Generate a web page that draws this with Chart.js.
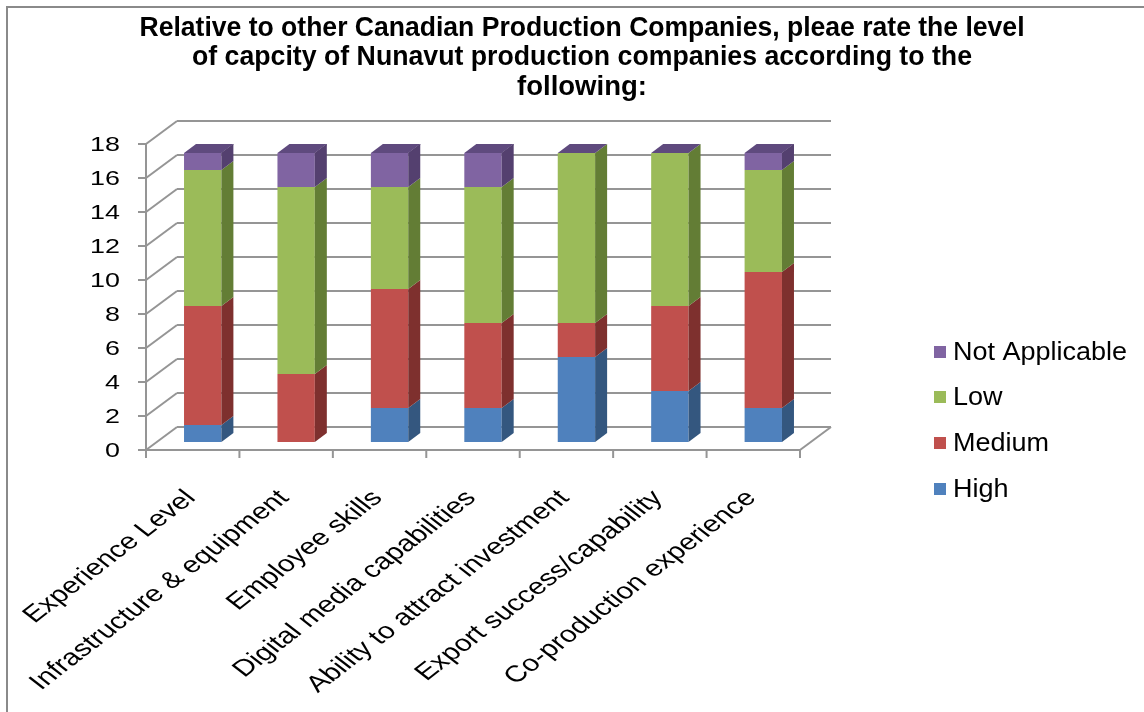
<!DOCTYPE html>
<html>
<head>
<meta charset="utf-8">
<title>Capacity of Nunavut production companies</title>
<script src="https://cdn.jsdelivr.net/npm/chart.js@4/dist/chart.umd.min.js"></script>
<style>
  html, body { margin: 0; padding: 0; background: #ffffff; }
  #wrap { width: 1144px; height: 712px; }
</style>
</head>
<body>
<div id="wrap"><canvas id="chart" width="1144" height="712"></canvas></div>
<script>
// Survey categories and counts per rating
const categories = [
  'Experience Level',
  'Infrastructure & equipment',
  'Employee skills',
  'Digital media capabilities',
  'Ability to attract investment',
  'Export success/capability',
  'Co-production experience'
];
const highVals   = [1, 0, 2, 2, 5, 3, 2];
const mediumVals = [7, 4, 7, 5, 2, 5, 8];
const lowVals    = [8, 11, 6, 8, 10, 9, 6];
const naVals     = [1, 2, 2, 2, 0, 0, 1];
const yTicks = [0, 2, 4, 6, 8, 10, 12, 14, 16, 18];
const titleLines = [
  'Relative to other Canadian Production Companies, pleae rate the level',
  'of capcity of Nunavut production companies according to the',
  'following:'
];
const seriesNames = ['High', 'Medium', 'Low', 'Not Applicable'];

// Face colours: front, side, top
const palette = [
  { front: '#4f81bd', side: '#34577f', top: '#3d6496' },
  { front: '#c0504d', side: '#7e302e', top: '#9a3d3b' },
  { front: '#9bbb59', side: '#637d35', top: '#7a9a40' },
  { front: '#8064a2', side: '#54406f', top: '#5f4a7e' }
];

const FONT = "'Liberation Sans', Arial, sans-serif";
const TITLE_FONT = "'Liberation Sans Narrow', 'Liberation Sans', Arial, sans-serif";
const FRONT = { dx: -10, dy: 8 };   // axis plane relative to bar faces
const BACK  = { dx: 21, dy: -15 };  // back wall relative to bar faces
const DEPTH = { dx: 12, dy: -9 };   // bar thickness
const GRID = '#959595';

function line(ctx, x1, y1, x2, y2) {
  ctx.beginPath();
  ctx.moveTo(x1, y1);
  ctx.lineTo(x2, y2);
  ctx.stroke();
}

function poly(ctx, pts, color) {
  ctx.beginPath();
  ctx.moveTo(pts[0][0], pts[0][1]);
  for (let i = 1; i < pts.length; i++) ctx.lineTo(pts[i][0], pts[i][1]);
  ctx.closePath();
  ctx.fillStyle = color;
  ctx.fill();
}

// Text squeezed or widened horizontally by sx, anchored at (x, y)
function stretchedText(ctx, text, x, y, sx, align, rotate) {
  ctx.save();
  ctx.translate(x, y);
  ctx.scale(sx, 1);
  if (rotate) ctx.rotate(rotate);
  ctx.textAlign = align;
  ctx.fillText(text, 0, 0);
  ctx.restore();
}

const frame3d = {
  id: 'frame3d',
  beforeDraw(chart) {
    const ctx = chart.ctx;
    ctx.save();
    ctx.fillStyle = '#ffffff';
    ctx.fillRect(0, 0, chart.width, chart.height);
    ctx.strokeStyle = '#8a8a8a';
    ctx.lineWidth = 2;
    ctx.strokeRect(7, 7, chart.width + 10, chart.height + 10);
    ctx.restore();
  },
  beforeDatasetsDraw(chart) {
    const { ctx, chartArea, scales } = chart;
    const xs = scales.x, ys = scales.y;
    const fx0 = chartArea.left + FRONT.dx, fx1 = chartArea.right + FRONT.dx;
    const bx0 = chartArea.left + BACK.dx,  bx1 = chartArea.right + BACK.dx;
    ctx.save();
    ctx.strokeStyle = GRID;
    ctx.lineWidth = 2;
    ctx.lineCap = 'butt';
    // back wall and side wall gridlines, value ticks
    yTicks.forEach(v => {
      const yb = ys.getPixelForValue(v);
      const yf = yb + FRONT.dy, yk = yb + BACK.dy;
      line(ctx, fx0, yf, bx0, yk);
      line(ctx, bx0, yk, bx1, yk);
      line(ctx, fx0 - 8, yf, fx0, yf);
    });
    const y0 = ys.getPixelForValue(0);
    const yTop = ys.getPixelForValue(yTicks[yTicks.length - 1]);
    // vertical axis and floor edges
    line(ctx, fx0, yTop + FRONT.dy, fx0, y0 + FRONT.dy + 8);
    line(ctx, fx0, y0 + FRONT.dy, fx1, y0 + FRONT.dy);
    line(ctx, fx1, y0 + FRONT.dy, fx1 + (BACK.dx - FRONT.dx), y0 + BACK.dy);
    const step = xs.getPixelForValue(1) - xs.getPixelForValue(0);
    for (let i = 0; i <= categories.length; i++) {
      const bx = xs.getPixelForValue(0) - step / 2 + i * step + FRONT.dx;
      line(ctx, bx, y0 + FRONT.dy, bx, y0 + FRONT.dy + 8);
    }
    // value labels
    ctx.fillStyle = '#000000';
    ctx.font = '21px ' + FONT;
    ctx.textBaseline = 'middle';
    yTicks.forEach(v => {
      const yf = ys.getPixelForValue(v) + FRONT.dy;
      stretchedText(ctx, String(v), 120, yf + 1, 1.28, 'right', 0);
    });
    // category labels, slanted
    ctx.font = '23px ' + FONT;
    ctx.textBaseline = 'alphabetic';
    categories.forEach((c, i) => {
      const cx = xs.getPixelForValue(i) + FRONT.dx + 4;
      stretchedText(ctx, c, cx, y0 + FRONT.dy + 49, 1.3, 'right', -Math.PI / 4);
    });
    ctx.restore();
  },
  afterDatasetsDraw(chart) {
    const ctx = chart.ctx;
    const metas = chart.data.datasets.map((d, i) => chart.getDatasetMeta(i));
    ctx.save();
    // side faces of every segment
    metas.forEach((meta, di) => {
      meta.data.forEach(bar => {
        const p = bar.getProps(['x', 'y', 'base', 'width'], true);
        if (Math.abs(p.base - p.y) < 0.5) return;
        const xr = p.x + p.width / 2;
        poly(ctx, [
          [xr, p.y], [xr + DEPTH.dx, p.y + DEPTH.dy],
          [xr + DEPTH.dx, p.base + DEPTH.dy], [xr, p.base]
        ], palette[di].side);
      });
    });
    // top face of each stack, drawn with the last series
    const lastMeta = metas[metas.length - 1];
    const lastIdx = metas.length - 1;
    lastMeta.data.forEach(bar => {
      const p = bar.getProps(['x', 'y', 'base', 'width'], true);
      const xl = p.x - p.width / 2, xr = p.x + p.width / 2;
      poly(ctx, [
        [xl, p.y], [xl + DEPTH.dx, p.y + DEPTH.dy],
        [xr + DEPTH.dx, p.y + DEPTH.dy], [xr, p.y]
      ], palette[lastIdx].top);
      if (Math.abs(p.base - p.y) >= 0.5) {
        poly(ctx, [
          [xr, p.y], [xr + DEPTH.dx, p.y + DEPTH.dy],
          [xr + DEPTH.dx, p.y + DEPTH.dy + 1], [xr, p.y + 1]
        ], palette[lastIdx].side);
      }
    });
    ctx.restore();
  },
  afterDraw(chart) {
    const ctx = chart.ctx;
    ctx.save();
    ctx.fillStyle = '#000000';
    // title
    ctx.font = 'bold 27px ' + TITLE_FONT;
    ctx.textBaseline = 'alphabetic';
    const widths = [885, 780, 130];
    const baselines = [36, 65, 95];
    titleLines.forEach((t, i) => {
      const w = ctx.measureText(t).width;
      stretchedText(ctx, t, 582, baselines[i], widths[i] / w, 'center', 0);
    });
    // legend, top to bottom in reverse series order
    ctx.font = '25px ' + FONT;
    ctx.textBaseline = 'middle';
    const legendY = [352, 397, 443, 489];
    for (let k = 0; k < seriesNames.length; k++) {
      const si = seriesNames.length - 1 - k;
      ctx.fillStyle = palette[si].front;
      ctx.fillRect(934, legendY[k] - 6, 12, 12);
      ctx.fillStyle = '#000000';
      stretchedText(ctx, seriesNames[si], 953, legendY[k] + 1, 1.08, 'left', 0);
    }
    ctx.restore();
  }
};

const seriesValues = [highVals, mediumVals, lowVals, naVals];

new Chart(document.getElementById('chart'), {
  type: 'bar',
  data: {
    labels: categories,
    datasets: seriesNames.map((name, i) => ({
      label: name,
      data: seriesValues[i],
      backgroundColor: palette[i].front,
      borderWidth: 0,
      categoryPercentage: 1.0,
      barPercentage: 0.4
    }))
  },
  options: {
    responsive: false,
    animation: false,
    devicePixelRatio: 1,
    layout: { padding: { left: 156, right: 334, top: 136, bottom: 270 } },
    plugins: {
      legend: { display: false },
      title: { display: false },
      tooltip: { enabled: false }
    },
    scales: {
      x: { stacked: true, display: false },
      y: { stacked: true, display: false, min: 0, max: 18 }
    }
  },
  plugins: [frame3d]
});
</script>
</body>
</html>
